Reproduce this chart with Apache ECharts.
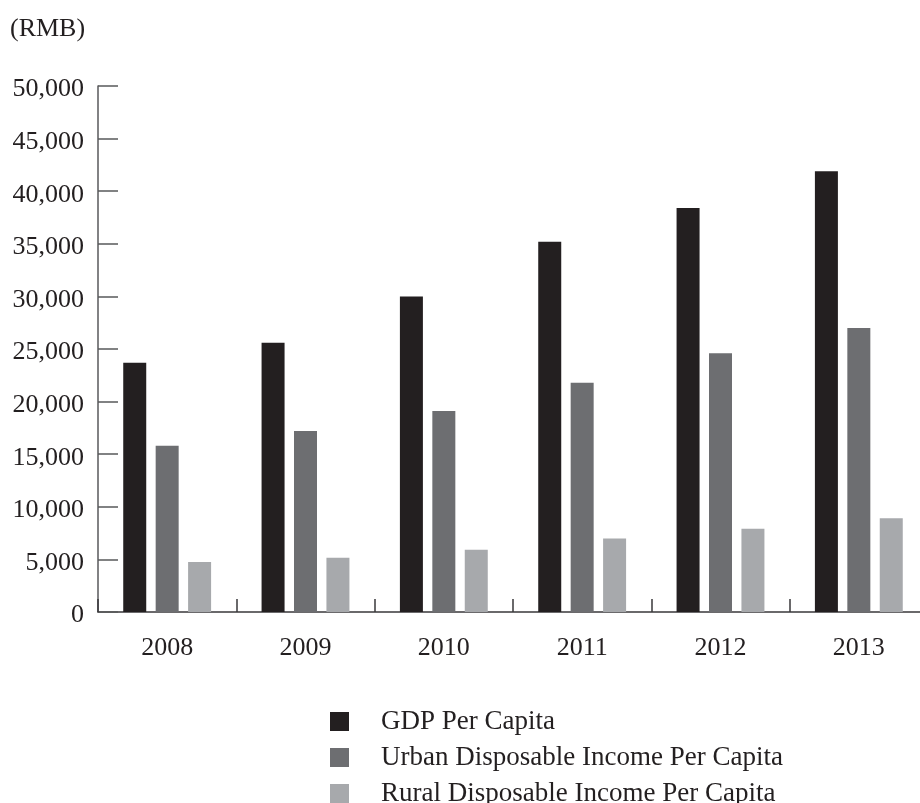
<!DOCTYPE html>
<html>
<head>
<meta charset="utf-8">
<title>Per Capita GDP and Disposable Income, 2008–2013</title>
<script src="https://cdn.jsdelivr.net/npm/echarts@6/dist/echarts.min.js"></script>
<style>
  html, body { margin: 0; padding: 0; background: #ffffff; }
  #chart { width: 920px; height: 803px; }
</style>
</head>
<body>
<div id="chart"></div>
<script>
// Years on the category axis
var years = ['2008', '2009', '2010', '2011', '2012', '2013'];

// Values in RMB
var gdpPerCapita   = [23700, 25600, 30000, 35200, 38400, 41900];
var urbanIncome    = [15800, 17200, 19100, 21800, 24600, 27000];
var ruralIncome    = [4760, 5150, 5920, 6980, 7920, 8900];

var seriesNames = [
  'GDP Per Capita',
  'Urban Disposable Income Per Capita',
  'Rural Disposable Income Per Capita'
];

var FONT = '"Liberation Serif", "Times New Roman", serif';
var TEXT = '#231f20';
var Y_AXIS = '#58595b';
var X_AXIS = '#3a393b';

function withCommas(v) {
  return String(v).replace(/\B(?=(\d{3})+(?!\d))/g, ',');
}

var chart = echarts.init(document.getElementById('chart'), null, { renderer: 'canvas' });

chart.setOption({
  animation: false,
  backgroundColor: '#ffffff',
  textStyle: { fontFamily: FONT, color: TEXT },
  title: {
    text: '(RMB)',
    left: 5,
    top: 11,
    textStyle: { fontFamily: FONT, fontSize: 26, fontWeight: 'normal', color: TEXT }
  },
  legend: {
    orient: 'vertical',
    left: 330,
    top: 708,
    height: 110,
    padding: 0,
    itemWidth: 19,
    itemHeight: 19,
    itemGap: 9,
    icon: 'rect',
    data: seriesNames,
    textStyle: {
      fontFamily: FONT,
      fontSize: 27,
      color: TEXT,
      padding: [0, 0, 0, 27]
    }
  },
  grid: {
    left: 98,
    top: 86,
    width: 830,
    bottom: 191,
    containLabel: false,
    outerBoundsMode: 'none'
  },
  xAxis: {
    type: 'category',
    data: years,
    axisLine: { show: true, lineStyle: { color: X_AXIS, width: 1.5 } },
    axisTick: { show: true, inside: true, length: 13, lineStyle: { color: X_AXIS, width: 1.5 } },
    axisLabel: { fontFamily: FONT, fontSize: 26, color: TEXT, margin: 23 },
    splitLine: { show: false }
  },
  yAxis: {
    type: 'value',
    min: 0,
    max: 50000,
    interval: 5000,
    axisLine: { show: true, lineStyle: { color: Y_AXIS, width: 1.5 } },
    axisTick: { show: true, inside: true, length: 20, lineStyle: { color: Y_AXIS, width: 1.5 } },
    axisLabel: {
      fontFamily: FONT,
      fontSize: 26,
      color: TEXT,
      margin: 14,
      formatter: function (v) { return '{n|' + withCommas(v) + '}'; },
      rich: {
        n: { fontFamily: FONT, fontSize: 26, color: TEXT, padding: [7, 0, 0, 0] }
      }
    },
    splitLine: { show: false }
  },
  series: [
    {
      name: seriesNames[0],
      type: 'bar',
      data: gdpPerCapita,
      barWidth: 23,
      barGap: '41%',
      itemStyle: { color: '#231f20' }
    },
    {
      name: seriesNames[1],
      type: 'bar',
      data: urbanIncome,
      barWidth: 23,
      barGap: '41%',
      itemStyle: { color: '#6d6e71' }
    },
    {
      name: seriesNames[2],
      type: 'bar',
      data: ruralIncome,
      barWidth: 23,
      barGap: '41%',
      itemStyle: { color: '#a7a9ac' }
    }
  ]
});
</script>
</body>
</html>
